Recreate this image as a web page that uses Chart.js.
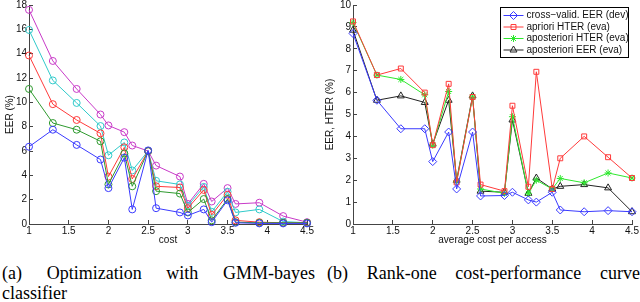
<!DOCTYPE html>
<html lang="en">
<head>
<meta charset="UTF-8">
<title>Cost-performance</title>
<script src="https://cdn.jsdelivr.net/npm/chart.js@4"></script>
<style>
  body { margin: 0; width: 640px; height: 302px; overflow: hidden; background: #fff; position: relative; }
  .panel { position: absolute; top: 0; width: 320px; height: 250px; }
  .caption { position: absolute; font-family: "Liberation Serif", "Times New Roman", serif; font-size: 18px; line-height: 20px; color: #000; }
  .line { display: flex; justify-content: space-between; white-space: nowrap; }
</style>
</head>
<body>
<div class="panel" style="left:0"><canvas id="chartA" width="320" height="250"></canvas></div>
<div class="panel" style="left:320px"><canvas id="chartB" width="320" height="250"></canvas></div>

<div class="caption" style="left:2px; top:263px; width:313px;">
  <div class="line"><span>(a)</span><span>Optimization</span><span>with</span><span>GMM-bayes</span></div>
  <div>classifier</div>
</div>
<div class="caption" style="left:327px; top:263px; width:313px;">
  <div class="line"><span>(b)</span><span>Rank-one</span><span>cost-performance</span><span>curve</span></div>
</div>

<script>
// x positions shared by every curve
const costs = [1, 1.3, 1.6, 1.9, 2.0, 2.2, 2.3, 2.5, 2.6, 2.9, 3.0, 3.2, 3.3, 3.5, 3.6, 3.9, 4.2, 4.5];

// (a) GMM-bayes
const gmmBlue    = [6.35, 7.75, 6.5, 5.3, 2.95, 5.45, 1.2, 6.05, 1.3, 0.95, 0.7, 1.2, 0.15, 1.95, 0.1, 0.05, 0.05, 0.05];
const gmmGreen   = [11.1, 8.3, 7.75, 6.8, 3.25, 5.8, 3.1, 6.0, 2.7, 2.5, 0.95, 2.05, 0.3, 2.05, 0.15, 0.1, 0.1, 0.1];
const gmmRed     = [13.85, 9.85, 8.55, 7.45, 3.9, 6.3, 3.7, 6.0, 3.1, 3.0, 1.3, 2.8, 0.75, 2.4, 0.3, 0.15, 0.1, 0.1];
const gmmCyan    = [15.95, 11.8, 9.95, 8.05, 5.65, 6.7, 4.4, 6.0, 3.55, 3.25, 1.5, 3.05, 1.0, 2.65, 0.95, 1.2, 0.2, 0.1];
const gmmMagenta = [17.6, 13.4, 11.1, 9.0, 8.1, 7.55, 6.45, 6.0, 4.8, 3.9, 1.65, 3.3, 1.85, 2.95, 1.65, 1.75, 0.65, 0.15];

// (b) rank-one curve
const cvEER       = [8.7, 5.65, 4.35, 4.35, 2.85, 4.2, 1.6, 4.2, 1.28, 1.3, 1.45, 1.1, 1.0, 1.45, 0.64, 0.56, 0.61, 0.56];
const aprioriHTER = [9.25, 6.8, 7.1, 6.0, 3.6, 6.4, 1.9, 5.8, 1.8, 1.5, 5.4, 1.7, 6.95, 1.6, 3.0, 4.0, 3.05, 2.1];
const apostHTER   = [9.2, 6.8, 6.6, 5.9, 3.6, 6.05, 1.95, 5.8, 1.6, 1.4, 4.9, 1.4, 2.0, 1.6, 2.08, 1.88, 2.33, 2.1];
const apostEER    = [8.85, 5.65, 5.85, 5.55, 3.65, 5.65, 2.0, 5.85, 1.5, 1.45, 4.75, 1.4, 2.1, 1.6, 1.72, 1.8, 1.65, 0.56];

const legendLabels = ['cross\u2212valid. EER (dev)', 'apriori HTER (eva)', 'aposteriori HTER (eva)', 'aposteriori EER (eva)'];

const tickFont = { family: 'Liberation Sans', size: 10 };

function pts(vals) {
  return vals.map((v, i) => ({ x: costs[i], y: v }));
}

function series(label, vals, color, style, r) {
  return {
    label: label,
    data: pts(vals),
    borderColor: color,
    backgroundColor: 'rgba(0,0,0,0)',
    borderWidth: 1,
    pointStyle: style,
    pointRadius: r,
    pointBorderWidth: 1,
    pointBorderColor: color,
    pointBackgroundColor: 'rgba(0,0,0,0)',
    tension: 0,
    clip: false
  };
}

// matlab style tick text: 1, 1.5, 2 ...
const plainNum = v => String(Math.round(v * 10) / 10);

function axes(yMax, yStep, yTitle, xTitle, yWidth) {
  return {
    x: {
      type: 'linear', min: 1, max: 4.5,
      ticks: { stepSize: 0.5, font: tickFont, color: '#111', padding: 5, callback: plainNum },
      grid: { drawOnChartArea: false, tickLength: -4, color: '#444' },
      border: { color: '#444' },
      title: { display: true, text: xTitle, font: tickFont, color: '#111', padding: { top: 0, bottom: 4 } },
      afterFit: s => { s.height = 26; s.paddingLeft = 0; s.paddingRight = 0; }
    },
    y: {
      min: 0, max: yMax,
      ticks: { stepSize: yStep, font: tickFont, color: '#111', padding: 6, callback: plainNum },
      grid: { drawOnChartArea: false, tickLength: -4, color: '#444' },
      border: { color: '#444' },
      title: { display: true, text: yTitle, font: tickFont, color: '#111', padding: { top: 4, bottom: 0 } },
      afterFit: s => { s.width = yWidth; s.paddingTop = 0; s.paddingBottom = 0; }
    }
  };
}

// legend box drawn inside the plot like the matlab one
const legendBox = {
  id: 'legendBox',
  afterDatasetsDraw(chart) {
    const ctx = chart.ctx;
    const x0 = 180.5, y0 = 7.5, w = 128, h = 50;
    ctx.save();
    ctx.fillStyle = '#fff';
    ctx.fillRect(x0, y0, w, h);
    ctx.strokeStyle = '#000';
    ctx.lineWidth = 1;
    ctx.strokeRect(x0, y0, w, h);
    ctx.font = '10px "Liberation Sans"';
    ctx.textBaseline = 'middle';
    chart.data.datasets.forEach((ds, i) => {
      const y = 15.5 + i * 11.5;
      ctx.strokeStyle = ds.borderColor;
      ctx.beginPath();
      ctx.moveTo(x0 + 3, y);
      ctx.lineTo(x0 + 23, y);
      ctx.stroke();
      ctx.fillStyle = 'rgba(0,0,0,0)';
      Chart.helpers.drawPoint(ctx, { pointStyle: ds.pointStyle, radius: ds.pointRadius, borderWidth: 1, rotation: 0 }, x0 + 13, y);
      ctx.fillStyle = '#111';
      ctx.fillText(ds.label, x0 + 26, y);
    });
    ctx.restore();
  }
};

const common = {
  responsive: false,
  animation: false,
  devicePixelRatio: 1,
  plugins: { legend: { display: false }, tooltip: { enabled: false } }
};

new Chart(document.getElementById('chartA'), {
  type: 'line',
  data: {
    datasets: [
      series('b', gmmBlue, '#3a3aff', 'circle', 3.5),
      series('g', gmmGreen, '#2f9a2f', 'circle', 3.5),
      series('r', gmmRed, '#ff3a3a', 'circle', 3.5),
      series('c', gmmCyan, '#30caca', 'circle', 3.5),
      series('m', gmmMagenta, '#c83ac8', 'circle', 3.5)
    ]
  },
  options: Object.assign({}, common, {
    layout: { padding: { left: 0, right: 13, top: 5, bottom: 0 } },
    scales: axes(18, 2, 'EER (%)', 'cost', 29)
  })
});

new Chart(document.getElementById('chartB'), {
  type: 'line',
  data: {
    datasets: [
      series(legendLabels[0], cvEER, '#3a3aff', 'rectRot', 4),
      series(legendLabels[1], aprioriHTER, '#ff3a3a', 'rect', 3.5),
      series(legendLabels[2], apostHTER, '#2ee82e', 'star', 3.5),
      series(legendLabels[3], apostEER, '#222', 'triangle', 4)
    ]
  },
  options: Object.assign({}, common, {
    layout: { padding: { left: 0, right: 8, top: 5, bottom: 0 } },
    scales: axes(10, 1, 'EER, HTER (%)', 'average cost per access', 33)
  }),
  plugins: [legendBox]
});
</script>
</body>
</html>
